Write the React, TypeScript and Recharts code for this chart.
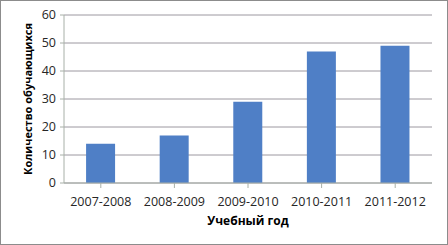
import { BarChart, Bar, XAxis, YAxis, CartesianGrid, Label } from "recharts";

const years = ["2007-2008", "2008-2009", "2009-2010", "2010-2011", "2011-2012"];
const students = [14, 17, 29, 47, 49];
const yTicks = [0, 10, 20, 30, 40, 50, 60];

const data = years.map((year, i) => ({ year, count: students[i] }));

const FONT = "'Open Sans', sans-serif";

export default function App() {
  return (
    <div style={{ position: "absolute", left: 0, top: 0, width: 448, height: 245, background: "#fff", boxSizing: "border-box", border: "1px solid #8c8c8c" }}>
      <BarChart
        width={446}
        height={243}
        data={data}
        margin={{ top: 14, right: 15, left: 0, bottom: 12 }}
        barCategoryGap="30%"
      >
        <CartesianGrid vertical={false} stroke="#9c98a0" />
        <XAxis
          dataKey="year"
          height={49}
          stroke="#a8b0a8"
          tickLine={{ stroke: "#a8b0a8" }}
          tickSize={5}
          tick={{ fontSize: 12.5, fill: "#262626", fontFamily: FONT }}
          tickMargin={9}
          interval={0}
        >
          <Label
            value="Учебный год"
            position="insideBottom"
            offset={7}
            style={{ fontSize: 12, fontWeight: 700, fill: "#000", fontFamily: FONT }}
          />
        </XAxis>
        <YAxis
          width={63}
          domain={[0, 60]}
          ticks={yTicks}
          stroke="#a8b0a8"
          tickSize={4}
          tick={{ fontSize: 12.5, fill: "#262626", fontFamily: FONT }}
          tickMargin={4}
        >
          <Label
            value="Количество обучающихся"
            angle={-90}
            position="insideLeft"
            offset={27}
            style={{ textAnchor: "middle", fontSize: 11, fontWeight: 700, fill: "#000", fontFamily: FONT }}
          />
        </YAxis>
        <Bar dataKey="count" fill="#4f7fc6" isAnimationActive={false} />
      </BarChart>
    </div>
  );
}
